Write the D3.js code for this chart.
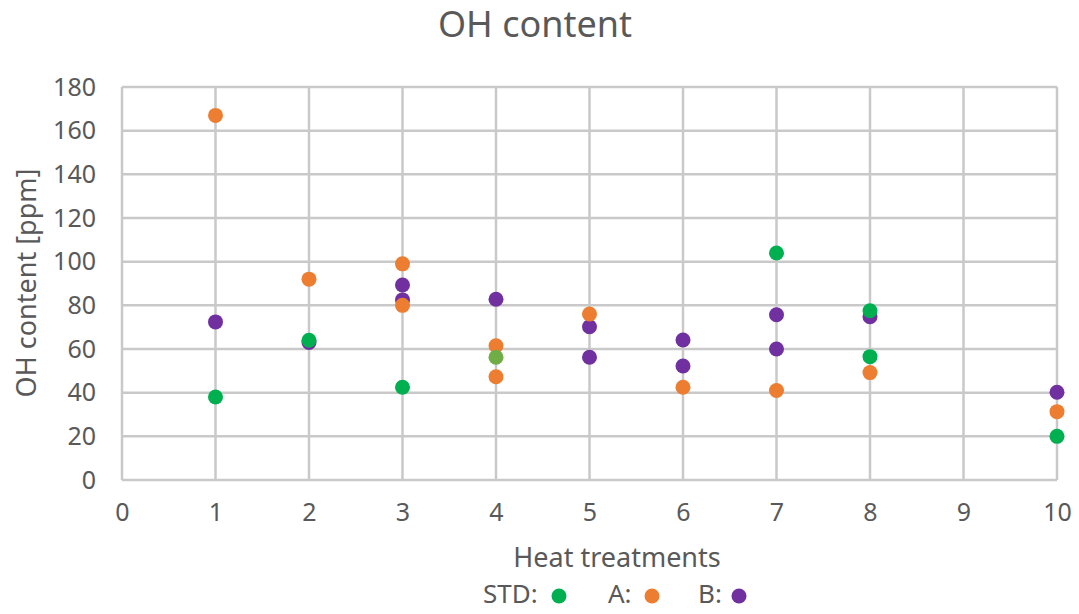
<!DOCTYPE html>
<html>
<head>
<meta charset="utf-8">
<script src="https://cdn.jsdelivr.net/npm/d3@7"></script>
<style>
body { margin: 0; background: #fff; }
text { font-family: "Noto Sans", "Liberation Sans", sans-serif; fill: #595959; }
</style>
</head>
<body>
<div class="container"></div>
<script>
const wd = 1079
const ht = 614

// data
const stdX = [1, 2, 3, 7, 8, 8, 10]
const stdY = [38, 64, 42.5, 104, 77.5, 56.5, 20]
const extraX = [4]          // the odd olive-green point at 4
const extraY = [56.2]
const aX = [1, 2, 3, 3, 4, 4, 5, 6, 7, 8, 10]
const aY = [167, 92, 99, 80, 61.5, 47.3, 76, 42.5, 41, 49.2, 31.3]
const bX = [1, 2, 3, 3, 4, 5, 5, 6, 6, 7, 7, 8, 10]
const bY = [72.4, 63, 89.3, 82.5, 82.8, 70.2, 56.2, 64.1, 52.2, 75.7, 60, 74.8, 40.2]

const xTicks = [0, 1, 2, 3, 4, 5, 6, 7, 8, 9, 10]
const yTicks = [0, 20, 40, 60, 80, 100, 120, 140, 160, 180]

const series = [
    {name: "B:", xs: bX, ys: bY, color: "#7030a0"},
    {name: "A:", xs: aX, ys: aY, color: "#ed7d31"},
    {name: "STD:", xs: stdX, ys: stdY, color: "#00b050"},
    {name: "", xs: extraX, ys: extraY, color: "#70ad47"}
]
const legendOrder = ["STD:", "A:", "B:"]

const svgC = d3.select(".container")
.append("svg")
.attr("height", ht)
.attr("width", wd)

const pLeft = 122, pRight = 1057, pTop = 87, pBottom = 480

const xS = d3.scaleLinear().domain([0, 10]).range([pLeft, pRight])
const yS = d3.scaleLinear().domain([0, 180]).range([pBottom, pTop])

// grid
const grid = svgC.append("g")
grid.selectAll(".hg")
.data(yTicks)
.enter()
.append("line")
.attr("x1", pLeft).attr("x2", pRight)
.attr("y1", d => yS(d)).attr("y2", d => yS(d))
.style("stroke", "#c9c9c9")
.style("stroke-width", "2.5px")

grid.selectAll(".vg")
.data(xTicks)
.enter()
.append("line")
.attr("y1", pTop).attr("y2", pBottom)
.attr("x1", d => xS(d)).attr("x2", d => xS(d))
.style("stroke", "#c9c9c9")
.style("stroke-width", "2.5px")

// axes, labels only
const yAxis = svgC.append("g")
.attr("transform", `translate(${pLeft - 26},0)`)
.call(d3.axisLeft(yS).tickValues(yTicks).tickSize(0).tickPadding(0))
yAxis.select(".domain").remove()
yAxis.selectAll("text").style("font-size", "25px").style("fill", "#595959").attr("font-family", null)

const xAxis = svgC.append("g")
.attr("transform", `translate(0,${pBottom + 23})`)
.call(d3.axisBottom(xS).tickValues(xTicks).tickSize(0).tickPadding(0))
xAxis.select(".domain").remove()
xAxis.selectAll("text").style("font-size", "25px").style("fill", "#595959").attr("font-family", null)
d3.selectAll(".tick text").style("font-family", "'Noto Sans', sans-serif")

// points
series.forEach(s => {
    svgC.append("g")
    .selectAll("circle")
    .data(s.xs.map((x, i) => [x, s.ys[i]]))
    .enter()
    .append("circle")
    .attr("cx", d => xS(d[0]))
    .attr("cy", d => yS(d[1]))
    .attr("r", 7.5)
    .style("fill", s.color)
})

// titles
svgC.append("text")
.attr("x", 535).attr("y", 37)
.attr("text-anchor", "middle")
.style("font-size", "36px")
.text("OH content")

svgC.append("text")
.attr("x", 617).attr("y", 567)
.attr("text-anchor", "middle")
.style("font-size", "27px")
.text("Heat treatments")

svgC.append("text")
.attr("transform", "translate(36,283) rotate(-90)")
.attr("text-anchor", "middle")
.style("font-size", "27px")
.text("OH content [ppm]")

// legend
const legX = [483, 608, 698]
const dotX = [559, 652, 739]
const leg = svgC.append("g")
legendOrder.forEach((nm, i) => {
    const s = series.find(d => d.name == nm)
    leg.append("text")
    .attr("x", legX[i]).attr("y", 603)
    .style("font-size", "26px")
    .text(nm)
    leg.append("circle")
    .attr("cx", dotX[i])
    .attr("cy", 596)
    .attr("r", 7.5)
    .style("fill", s.color)
})
</script>
</body>
</html>
